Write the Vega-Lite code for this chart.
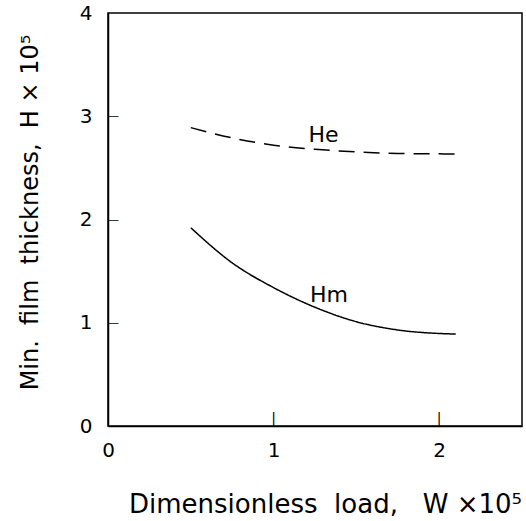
{
  "$schema": "https://vega.github.io/schema/vega-lite/v6.json",
  "autosize": "none",
  "width": 414,
  "height": 413,
  "padding": {"left": 108, "top": 13, "right": 4, "bottom": 95},
  "background": "white",
  "config": {
    "view": {"stroke": "black", "strokeWidth": 1.5},
    "font": "DejaVu Sans",
    "axis": {
      "grid": false,
      "domainColor": "black",
      "domainWidth": 1.5,
      "ticks": false,
      "labelColor": "black",
      "titleColor": "black",
      "labelFont": "DejaVu Sans",
      "titleFont": "DejaVu Sans",
      "labelFontSize": 20,
      "titleFontWeight": "normal"
    }
  },
  "datasets": {
    "curves": [
      {"W": 0.5, "H": 2.89, "series": "He"},
      {"W": 0.75, "H": 2.79, "series": "He"},
      {"W": 1.0, "H": 2.72, "series": "He"},
      {"W": 1.25, "H": 2.68, "series": "He"},
      {"W": 1.5, "H": 2.655, "series": "He"},
      {"W": 1.75, "H": 2.64, "series": "He"},
      {"W": 2.1, "H": 2.635, "series": "He"},
      {"W": 0.5, "H": 1.92, "series": "Hm"},
      {"W": 0.75, "H": 1.58, "series": "Hm"},
      {"W": 1.0, "H": 1.34, "series": "Hm"},
      {"W": 1.25, "H": 1.15, "series": "Hm"},
      {"W": 1.5, "H": 1.01, "series": "Hm"},
      {"W": 1.75, "H": 0.93, "series": "Hm"},
      {"W": 2.1, "H": 0.89, "series": "Hm"}
    ],
    "labels": [
      {"W": 1.21, "H": 2.75, "label": "He"},
      {"W": 1.22, "H": 1.2, "label": "Hm"}
    ]
  },
  "layer": [
    {
      "data": {"name": "curves"},
      "mark": {"type": "line", "color": "black", "strokeWidth": 1.5, "interpolate": "monotone"},
      "encoding": {
        "x": {
          "field": "W", "type": "quantitative",
          "scale": {"domain": [0, 2.5], "nice": false, "zero": false},
          "axis": {"values": [0, 1, 2], "format": "d", "labelPadding": 14, "labelFlush": false,
            "title": "Dimensionless\u00a0\u00a0load,\u00a0\u00a0\u00a0W ×10⁵",
            "titleFontSize": 26, "titleX": 217, "titleY": 86, "titleAlign": "center", "titleBaseline": "alphabetic"}
        },
        "y": {
          "field": "H", "type": "quantitative",
          "scale": {"domain": [0, 4], "nice": false},
          "axis": {"values": [0, 1, 2, 3, 4], "format": "d", "labelPadding": 16, "labelFlush": false,
            "title": "Min.\u00a0\u00a0film\u00a0\u00a0thickness,\u00a0\u00a0H × 10⁵",
            "titleFontSize": 24, "titleX": -71, "titleY": 199, "titleAngle": -90, "titleAlign": "center", "titleBaseline": "alphabetic"}
        },
        "detail": {"field": "series"},
        "strokeDash": {
          "field": "series", "type": "nominal", "legend": null,
          "scale": {"domain": ["He", "Hm"], "range": [[16, 9], [1, 0]]}
        }
      }
    },
    {
      "data": {"values": [{"W": 1, "H": 0}, {"W": 2, "H": 0}]},
      "mark": {"type": "text", "text": "|", "font": "DejaVu Sans", "fontSize": 14, "fill": "black", "baseline": "bottom", "align": "center"},
      "encoding": {
        "x": {"field": "W", "type": "quantitative"},
        "y": {"field": "H", "type": "quantitative"}
      }
    },
    {
      "data": {"values": [{"W": 0, "H": 1}, {"W": 0, "H": 2}, {"W": 0, "H": 3}]},
      "mark": {"type": "text", "text": "—", "font": "DejaVu Sans", "fontSize": 11, "fill": "black", "baseline": "middle", "align": "left"},
      "encoding": {
        "x": {"field": "W", "type": "quantitative"},
        "y": {"field": "H", "type": "quantitative"}
      }
    },
    {
      "data": {"name": "labels"},
      "mark": {"type": "text", "fontSize": 22, "font": "DejaVu Sans", "fill": "black", "align": "left", "baseline": "alphabetic"},
      "encoding": {
        "x": {"field": "W", "type": "quantitative"},
        "y": {"field": "H", "type": "quantitative"},
        "text": {"field": "label"}
      }
    }
  ]
}
